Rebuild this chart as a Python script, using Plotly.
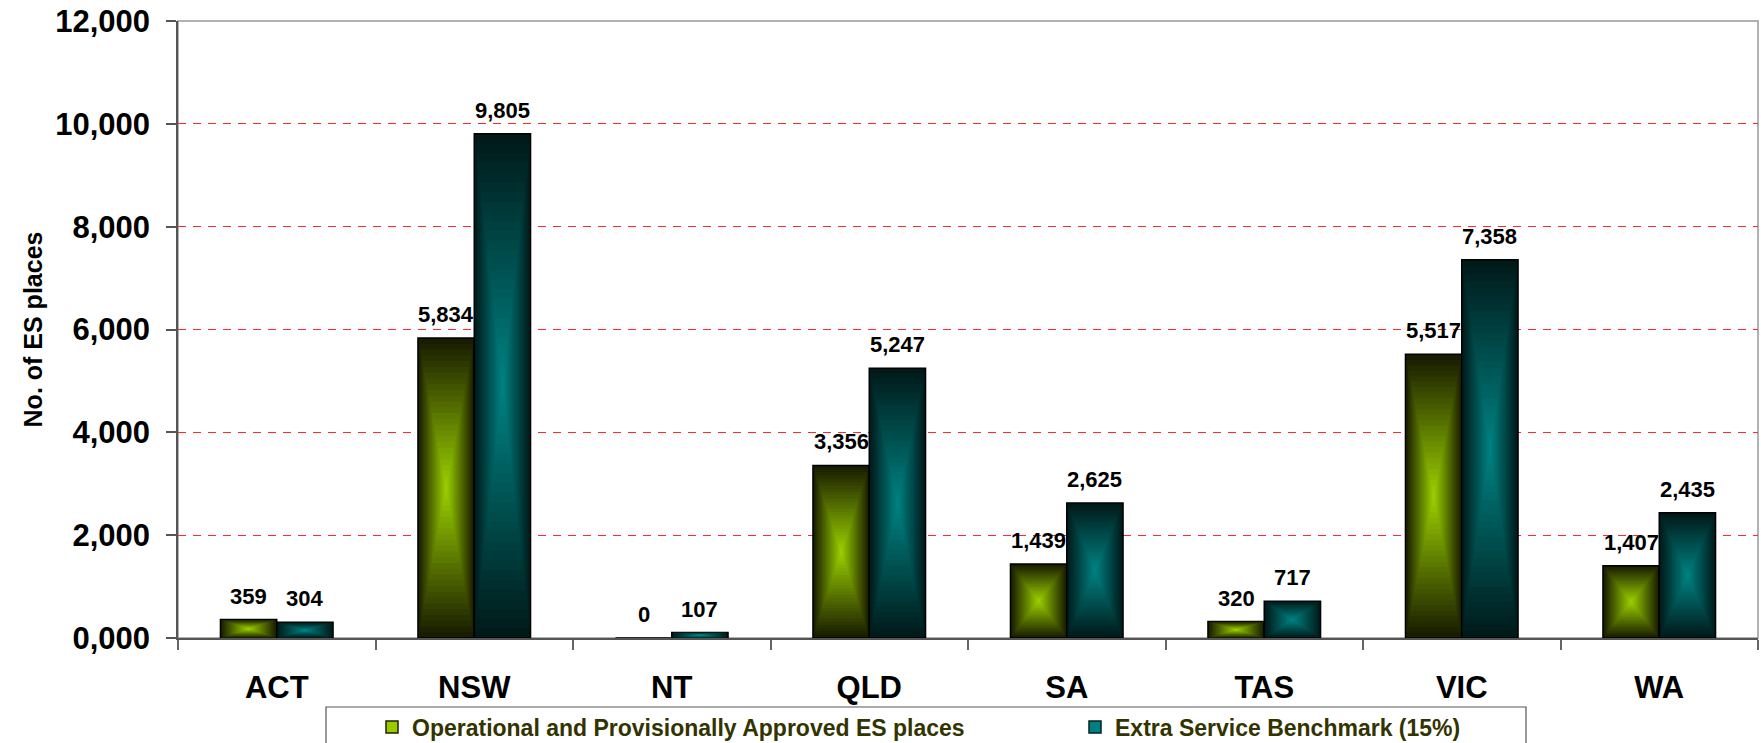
import plotly.graph_objects as go

# ---------------- data ----------------
categories = ["ACT", "NSW", "NT", "QLD", "SA", "TAS", "VIC", "WA"]
operational = [359, 5834, 0, 3356, 1439, 320, 5517, 1407]
benchmark = [304, 9805, 107, 5247, 2625, 717, 7358, 2435]
series_names = ["Operational and Provisionally Approved ES places",
                "Extra Service Benchmark (15%)"]
y_tickvals = [0, 2000, 4000, 6000, 8000, 10000, 12000]
y_ticktext = ["0,000", "2,000", "4,000", "6,000", "8,000", "10,000", "12,000"]

# ---------------- layout constants ----------------
W, H = 1761, 743
ML, MR, MT, MB = 178, 3, 21, 105
PW, PH = W - ML - MR, H - MT - MB
BAR_W = 0.285
N_LAYERS = 26
FONT = "Liberation Sans, Arial, Helvetica, sans-serif"


def px_x(px):
    return (px - ML) / PW


def px_y(py):
    return (H - MB - py) / PH


def mix(c1, c2, t):
    return "rgb(%d,%d,%d)" % tuple(round(a + (b - a) * t) for a, b in zip(c1, c2))


green_edge, green_center = (24, 28, 0), (153, 204, 0)
teal_edge, teal_center = (0, 26, 26), (0, 128, 128)

fig = go.Figure()

# legend-only entries
fig.add_trace(go.Bar(x=[None], y=[None], name=series_names[0],
                     marker=dict(color="#99cc00", line=dict(color="#222200", width=1.5)),
                     showlegend=True, hoverinfo="skip"))
fig.add_trace(go.Bar(x=[None], y=[None], name=series_names[1],
                     marker=dict(color="#008080", line=dict(color="#002222", width=1.5)),
                     showlegend=True, hoverinfo="skip"))

# bars with a "from centre" rectangular gradient built from nested bars
for values, base_off, edge, center, name in [
    (operational, -BAR_W, green_edge, green_center, series_names[0]),
    (benchmark, 0.0, teal_edge, teal_center, series_names[1]),
]:
    for k in range(N_LAYERS):
        frac = k / N_LAYERS
        t = k / (N_LAYERS - 1)
        heights = [v * (1 - frac) for v in values]
        bases = [v * frac / 2 for v in values]
        fig.add_trace(go.Bar(
            x=categories, y=heights, base=bases,
            width=BAR_W * (1 - frac),
            offset=base_off + BAR_W * frac / 2,
            marker=dict(color=mix(edge, center, t),
                        line=dict(color="#000000", width=1.5 if k == 0 else 0)),
            name=name, showlegend=False,
            hoverinfo="skip" if k > 0 else None,
            customdata=values if k == 0 else None,
            hovertemplate="%{x}: %{customdata:,}<extra>" + name + "</extra>" if k == 0 else None,
        ))

# value labels
shift_px = BAR_W / 2 * PW / len(categories)
annotations = []
for values, sgn in [(operational, -1), (benchmark, 1)]:
    for c, v in zip(categories, values):
        annotations.append(dict(
            x=c, y=v, xref="x", yref="y", text=f"{v:,}", showarrow=False,
            xanchor="center", yanchor="bottom", xshift=sgn * shift_px, yshift=9,
            font=dict(family=FONT, size=22, color="#000000", weight="bold")))

shapes = [
    # plot frame (light grey, right/top)
    dict(type="rect", xref="paper", yref="paper", x0=0, x1=1, y0=0, y1=1,
         line=dict(color="#999999", width=1.5), layer="below"),
    # legend box
    dict(type="rect", xref="paper", yref="paper",
         x0=px_x(326), x1=px_x(1526), y0=px_y(770), y1=px_y(707),
         line=dict(color="#555555", width=1.2)),
]

fig.update_layout(
    width=W, height=H,
    margin=dict(l=ML, r=MR, t=MT, b=MB, autoexpand=False),
    paper_bgcolor="white", plot_bgcolor="white",
    barmode="overlay",
    font=dict(family=FONT, color="#000000"),
    annotations=annotations,
    shapes=shapes,
    showlegend=True,
    legend=dict(orientation="h", x=px_x(372), y=px_y(705.5), xanchor="left", yanchor="top",
                bgcolor="rgba(0,0,0,0)", borderwidth=0, entrywidth=658, entrywidthmode="pixels",
                font=dict(family=FONT, size=23, color="#333300", weight="bold"),
                traceorder="normal"),
    xaxis=dict(
        type="category", categoryorder="array", categoryarray=categories,
        range=[-0.5, len(categories) - 0.5],
        showline=True, linecolor="#555555", linewidth=1.5,
        ticks="outside", tickson="boundaries", ticklen=10, tickcolor="#666666", tickwidth=1.5,
        ticklabelstandoff=21,
        tickfont=dict(family=FONT, size=31, color="#000000", weight="bold"),
        showgrid=False, zeroline=False, fixedrange=True,
    ),
    yaxis=dict(
        range=[0, 12000], tickvals=y_tickvals, ticktext=y_ticktext,
        showline=True, linecolor="#555555", linewidth=1.5,
        ticks="outside", ticklen=10, tickcolor="#555555", tickwidth=1.5,
        ticklabelstandoff=10,
        tickfont=dict(family=FONT, size=31, color="#000000", weight="bold"),
        showgrid=True, gridcolor="#ff2a2a", gridwidth=1, griddash="8px,7px",
        zeroline=False, fixedrange=True,
        title=dict(text="No. of ES places", standoff=5,
                   font=dict(family=FONT, size=25, color="#000000", weight="bold")),
    ),
)

fig.write_html("out.html",
               config={"displayModeBar": False},
               post_script="document.body.style.margin='0px';document.body.style.overflow='hidden';")
